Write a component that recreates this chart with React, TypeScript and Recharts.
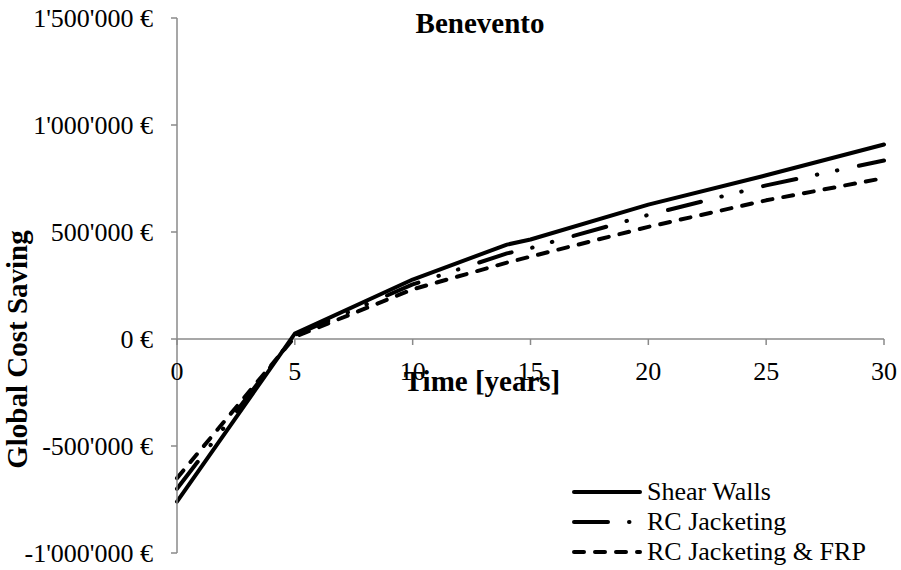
import { LineChart, Line, XAxis, YAxis, ReferenceLine, Legend } from "recharts";

const years = [0, 5, 10, 14, 15, 20, 25, 30];
const shearWalls = [-760000, 25000, 278000, 441000, 465000, 628000, 765000, 909000];
const rcJacketing = [-700000, 18000, 255000, 400000, 425000, 580000, 718000, 834000];
const rcJacketingFrp = [-650000, 10000, 232000, 357000, 385000, 524000, 648000, 752000];

const seriesNames = ["Shear Walls", "RC Jacketing", "RC Jacketing & FRP"];
const xTicks = [0, 5, 10, 15, 20, 25, 30];
const yTicks = [-1000000, -500000, 0, 500000, 1000000, 1500000];

const data = years.map((t, i) => ({
  t,
  shear: shearWalls[i],
  rc: rcJacketing[i],
  frp: rcJacketingFrp[i],
}));

const W = 901;
const H = 570;
const MARGIN = { top: 18, right: 17, bottom: 16, left: 0 };
const X_AXIS_H = 1;
const Y_AXIS_W = 177;
const PLOT_H = H - MARGIN.top - MARGIN.bottom - X_AXIS_H;
const Y_MIN = -1000000;
const Y_MAX = 1500000;
const AXIS = "#8a8a8a";
const FONT = "'Liberation Serif', 'Times New Roman', serif";

const DASH_DOT_DOT = "34 21 0.5 20 0.5 22";
const DASHED = "10 11";

const euro = (v: number) => {
  const s = Math.abs(v)
    .toString()
    .replace(/\B(?=(\d{3})+(?!\d))/g, "'");
  return (v < 0 ? "-" : "") + s + " €";
};

// x axis sits on y = 0, so move the ticks up from the plot bottom
function XTick(props: any) {
  const { x, y, payload } = props;
  const y0 = y - (PLOT_H * (0 - Y_MIN)) / (Y_MAX - Y_MIN);
  return (
    <g>
      <line x1={x} x2={x} y1={y0} y2={y0 + 6} stroke={AXIS} strokeWidth={1.5} />
      <text x={x} y={y0 + 23} dy="0.71em" textAnchor="middle" fontSize={26} fontFamily={FONT} fill="#000">
        {payload.value}
      </text>
    </g>
  );
}

function TimeLabel({ viewBox }: any) {
  return (
    <text
      x={viewBox.x + 305}
      y={viewBox.y + 52}
      textAnchor="middle"
      fontSize={29}
      fontWeight="bold"
      fontFamily={FONT}
      fill="#000"
    >
      Time [years]
    </text>
  );
}

function YTitle({ viewBox }: any) {
  const x = viewBox.x + 27;
  const y = viewBox.y + viewBox.height / 2 + 64;
  return (
    <text
      x={x}
      y={y}
      transform={`rotate(-90 ${x} ${y})`}
      textAnchor="middle"
      fontSize={29}
      fontWeight="bold"
      fontFamily={FONT}
      fill="#000"
    >
      Global Cost Saving
    </text>
  );
}

function LegendContent({ payload }: any) {
  const items = seriesNames
    .map((n) => (payload ?? []).find((p: any) => p.value === n))
    .filter(Boolean);
  return (
    <svg width={340} height={96}>
      {items.map((p: any, i: number) => {
        const cy = 18 + i * 30;
        return (
          <g key={p.value}>
            <line
              x1={14}
              x2={80}
              y1={cy}
              y2={cy}
              stroke="#000"
              strokeWidth={4}
              strokeLinecap="round"
              strokeDasharray={p.payload?.strokeDasharray}
            />
            <text x={87} y={cy + 8} fontSize={26} fontFamily={FONT} fill="#000">
              {p.value}
            </text>
          </g>
        );
      })}
    </svg>
  );
}

export default function App() {
  return (
    <div
      style={{
        position: "absolute",
        left: 0,
        top: 0,
        width: W,
        height: H,
        background: "#fff",
        fontFamily: FONT,
      }}
    >
      <LineChart width={W} height={H} data={data} margin={MARGIN}>
        <XAxis
          dataKey="t"
          type="number"
          domain={[0, 30]}
          ticks={xTicks}
          interval={0}
          axisLine={false}
          tickLine={false}
          tickSize={0}
          tickMargin={0}
          height={X_AXIS_H}
          tick={XTick}
        />
        <YAxis
          type="number"
          domain={[Y_MIN, Y_MAX]}
          ticks={yTicks}
          interval={0}
          width={Y_AXIS_W}
          tickFormatter={euro}
          axisLine={{ stroke: AXIS, strokeWidth: 1.5 }}
          tickLine={{ stroke: AXIS, strokeWidth: 1.5 }}
          tickSize={6}
          tickMargin={18}
          tick={{ fontSize: 26, fontFamily: FONT, fill: "#000" }}
          label={<YTitle />}
        />
        <ReferenceLine y={0} stroke={AXIS} strokeWidth={1.5} label={<TimeLabel />} />
        <Line
          name="Shear Walls"
          dataKey="shear"
          type="linear"
          stroke="#000"
          strokeWidth={4}
          strokeLinecap="round"
          strokeLinejoin="round"
          dot={false}
          activeDot={false}
          isAnimationActive={false}
        />
        <Line
          name="RC Jacketing"
          dataKey="rc"
          type="linear"
          stroke="#000"
          strokeWidth={4}
          strokeLinecap="round"
          strokeLinejoin="round"
          strokeDasharray={DASH_DOT_DOT}
          dot={false}
          activeDot={false}
          isAnimationActive={false}
        />
        <Line
          name="RC Jacketing & FRP"
          dataKey="frp"
          type="linear"
          stroke="#000"
          strokeWidth={4}
          strokeLinecap="round"
          strokeLinejoin="round"
          strokeDasharray={DASHED}
          dot={false}
          activeDot={false}
          isAnimationActive={false}
        />
        <Legend
          layout="vertical"
          align="center"
          verticalAlign="middle"
          content={<LegendContent />}
          wrapperStyle={{ left: 560, top: 474, width: 340, height: 96 }}
        />
      </LineChart>
      <svg
        width={W}
        height={60}
        style={{ position: "absolute", left: 0, top: 0, pointerEvents: "none" }}
      >
        <text x={480} y={33} textAnchor="middle" fontSize={29} fontWeight="bold" fontFamily={FONT} fill="#000">
          Benevento
        </text>
      </svg>
    </div>
  );
}
